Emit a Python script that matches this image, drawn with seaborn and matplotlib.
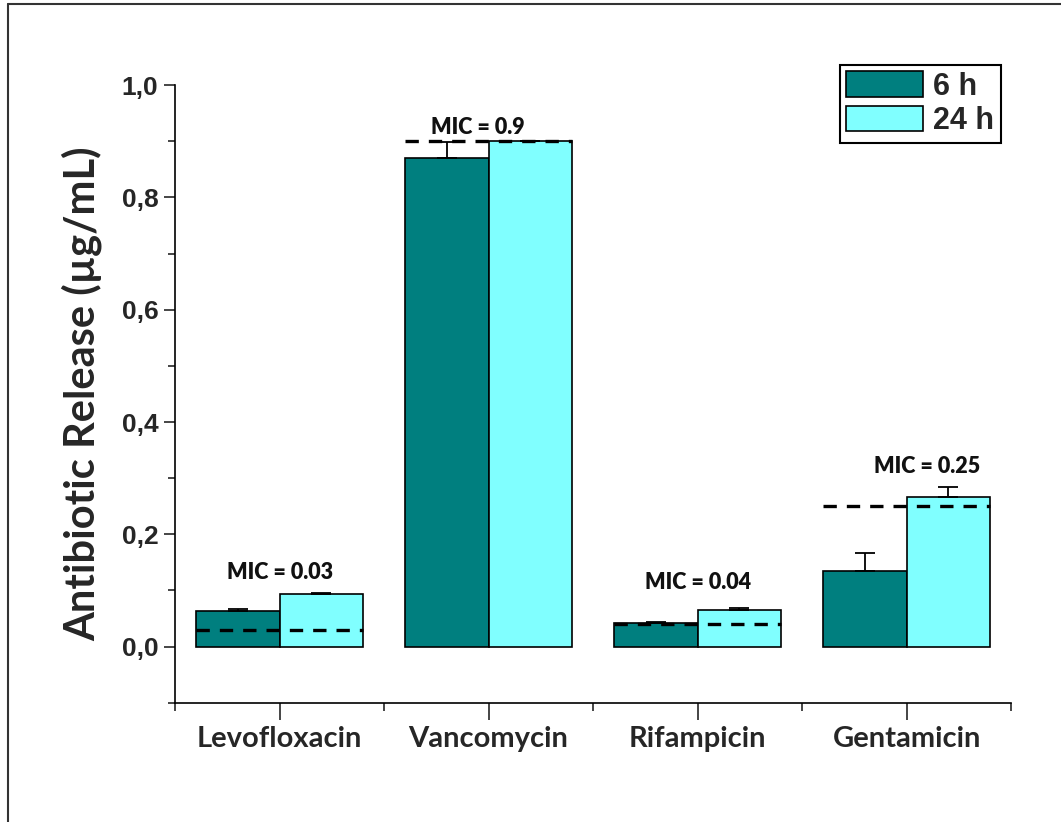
import matplotlib
matplotlib.use("Agg")
import matplotlib.pyplot as plt
import seaborn as sns
import pandas as pd
import numpy as np
from matplotlib.ticker import FixedLocator, FuncFormatter
from matplotlib.patches import Patch
from matplotlib.lines import Line2D

# Antibiotic release data
antibiotics = ["Levofloxacin", "Vancomycin", "Rifampicin", "Gentamicin"]
times = ["6 h", "24 h"]
release_6h = [0.064, 0.870, 0.042, 0.135]
release_24h = [0.093, 0.900, 0.065, 0.266]
err_6h = [0.003, 0.029, 0.002, 0.031]
err_24h = [0.003, 0.001, 0.003, 0.019]
mic_values = [0.03, 0.9, 0.04, 0.25]
mic_labels = ["MIC = 0.03", "MIC = 0.9", "MIC = 0.04", "MIC = 0.25"]

colors = {"6 h": "#007F7F", "24 h": "#80FFFF"}

df = pd.DataFrame({
    "Antibiotic": antibiotics * 2,
    "Time": [times[0]] * 4 + [times[1]] * 4,
    "Release": release_6h + release_24h,
})

sns.set_style("white")
plt.rcParams["font.family"] = ["Liberation Sans", "DejaVu Sans"]
humanist = ["Lato", "DejaVu Sans"]

fig = plt.figure(figsize=(10.61, 8.22), dpi=100)
ax = fig.add_axes([0.165, 0.145, 0.788, 0.7515])

sns.barplot(data=df, x="Antibiotic", y="Release", hue="Time",
            order=antibiotics, hue_order=times, palette=colors, saturation=1,
            width=0.8, edgecolor="black", linewidth=1.2,
            errorbar=None, legend=False, ax=ax, zorder=2)

# upward-only error bars at each bar's centre
for cont, errs, vals in zip(ax.containers, [err_6h, err_24h], [release_6h, release_24h]):
    xs = [p.get_x() + p.get_width() / 2 for p in cont.patches]
    ax.errorbar(xs, vals, yerr=[np.zeros(len(errs)), errs], fmt="none",
                ecolor="black", elinewidth=1.3, capsize=7, capthick=1.3, zorder=3)

# MIC reference lines with labels
label_y = [0.132, 0.925, 0.114, 0.32]
label_dx = [0.0, -0.05, 0.0, 0.1]
for i, (mic, lab) in enumerate(zip(mic_values, mic_labels)):
    ax.plot([i - 0.4, i + 0.4], [mic, mic], color="black", lw=2.4,
            linestyle=(0, (4, 3)), zorder=4)
    ax.text(i + label_dx[i], label_y[i], lab, ha="center", va="center",
            fontsize=15.5, fontweight="heavy", family=humanist, color="#111111")

ax.set_xlim(-0.5, 3.5)
ax.set_ylim(-0.1, 1.0)

for s in ["top", "right"]:
    ax.spines[s].set_visible(False)
for s in ["left", "bottom"]:
    ax.spines[s].set_color("black")
    ax.spines[s].set_linewidth(1.2)

ax.yaxis.set_major_locator(FixedLocator([0.0, 0.2, 0.4, 0.6, 0.8, 1.0]))
ax.yaxis.set_minor_locator(FixedLocator([-0.1, 0.1, 0.3, 0.5, 0.7, 0.9]))
ax.yaxis.set_major_formatter(FuncFormatter(lambda v, p: f"{v:.1f}".replace(".", ",")))
ax.xaxis.set_minor_locator(FixedLocator([-0.5, 0.5, 1.5, 2.5, 3.5]))

ax.tick_params(axis="y", which="major", direction="out", length=8, width=1.2,
               left=True, labelsize=19, pad=4)
ax.tick_params(axis="y", which="minor", direction="out", length=5, width=1.2, left=True)
ax.tick_params(axis="x", which="major", direction="out", length=12, width=1.2,
               bottom=True, pad=5)
ax.tick_params(axis="x", which="minor", direction="out", length=6, width=1.2, bottom=True)

for t in ax.get_yticklabels():
    t.set_fontweight("bold")
for t in ax.get_xticklabels():
    t.set_fontweight("bold")
    t.set_fontsize(21)
    t.set_family(humanist)

ax.set_xlabel("")
ax.set_ylabel("Antibiotic Release (µg/mL)", fontsize=30, fontweight="bold",
              family=humanist, labelpad=14)

handles = [Patch(facecolor=colors[t], edgecolor="black", linewidth=1.2, label=t) for t in times]
leg = ax.legend(handles=handles, loc="upper right", bbox_to_anchor=(0.988, 1.033),
                frameon=True, fancybox=False, edgecolor="black", framealpha=1,
                prop={"weight": "bold", "size": 22}, handlelength=2.5, handleheight=0.9,
                handletextpad=0.35, borderpad=0.22, labelspacing=0.14, borderaxespad=0)
leg.get_frame().set_linewidth(1.5)

# thin frame lines along the figure's top and left edges
fig.add_artist(Line2D([0.0075, 1.0], [1 - 4 / 822, 1 - 4 / 822], transform=fig.transFigure,
                      color="#333333", lw=1.5))
fig.add_artist(Line2D([0.0075, 0.0075], [0, 1 - 4 / 822], transform=fig.transFigure,
                      color="#333333", lw=1.5))

fig.savefig("out.png", dpi=100)
